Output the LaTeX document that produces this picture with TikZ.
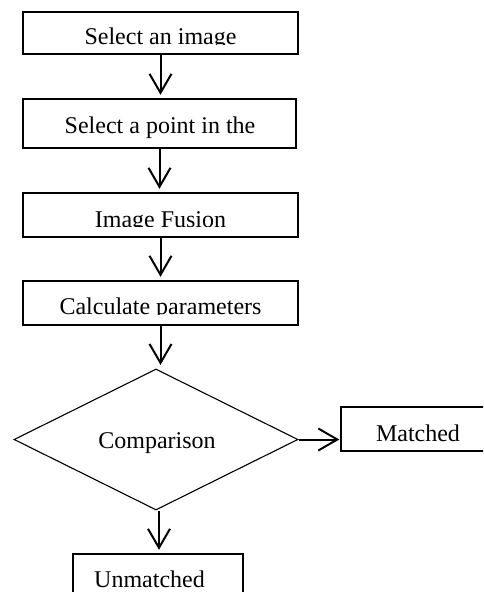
\documentclass[tikz,border=0pt]{standalone}
\usepackage{fontspec}
\setmainfont{Liberation Serif}
\usetikzlibrary{shapes.geometric,arrows.meta,calc}
\begin{document}
\begin{tikzpicture}[x=1pt,y=-1pt,
  stepbox/.style={draw,line width=1.4pt,inner sep=0pt,rectangle},
  label/.style={inner sep=0pt,anchor=base,font=\fontsize{24}{28}\selectfont},
  flow/.style={line width=2pt,-{Straight Barb[length=19pt,width=22pt,line width=2pt]},shorten >=3.5pt}]
  \clip (0,0) rectangle (483,592);
  \fill[white] (0,0) rectangle (483,592);

  % process boxes
  \node[stepbox,minimum width=275pt,minimum height=42pt] (b1) at (160.5,33) {};
  \node[stepbox,minimum width=273pt,minimum height=49pt] (b2) at (159.5,123.5) {};
  \node[stepbox,minimum width=275pt,minimum height=44pt] (b3) at (160.5,215) {};
  \node[stepbox,minimum width=275pt,minimum height=44pt] (b4) at (160.5,303) {};
  \node[draw,line width=1.1pt,shape=diamond,inner sep=0pt,minimum width=284pt,minimum height=141pt] (cmp) at (156,439.5) {};
  \node[stepbox,minimum width=154pt,minimum height=44pt] (ok) at (418,429) {};
  \node[stepbox,minimum width=170pt,minimum height=50pt] (nok) at (158,579) {};

  % box texts, cut off at the lower edge of their text frames
  \begin{scope}
    \clip (23,12) rectangle (298,44.5);
    \node[label] (t1) at (160.5,44) {Select an image};
  \end{scope}
  \node[label] (t2) at (160,133) {Select a point in the};
  \begin{scope}
    \clip (23,193) rectangle (298,226.5);
    \node[label] (t3) at (160.5,227) {Image Fusion};
  \end{scope}
  \begin{scope}
    \clip (23,281) rectangle (298,314.5);
    \node[label] (t4) at (160.5,314.5) {Calculate parameters};
  \end{scope}
  \node[label] (tc) at (157,448) {Comparison};
  \node[label] (to) at (418,441) {Matched};
  \node[label] (tn) at (149.5,587.5) {Unmatched};

  % connectors
  \coordinate (cs) at ($(cmp.south)+(3,0)$);
  \draw[flow] (b1.south) -- (b1.south |- b2.north);
  \draw[flow] (b2.south) -- (b2.south |- b3.north);
  \draw[flow] (b3.south) -- (b3.south |- b4.north);
  \draw[flow] (b4.south) -- (b4.south |- cmp.north);
  \draw[flow,shorten >=1pt] (cmp.east) -- (ok.west |- cmp.east);
  \draw[flow] (cs) -- (cs |- nok.north);
\end{tikzpicture}
\end{document}
